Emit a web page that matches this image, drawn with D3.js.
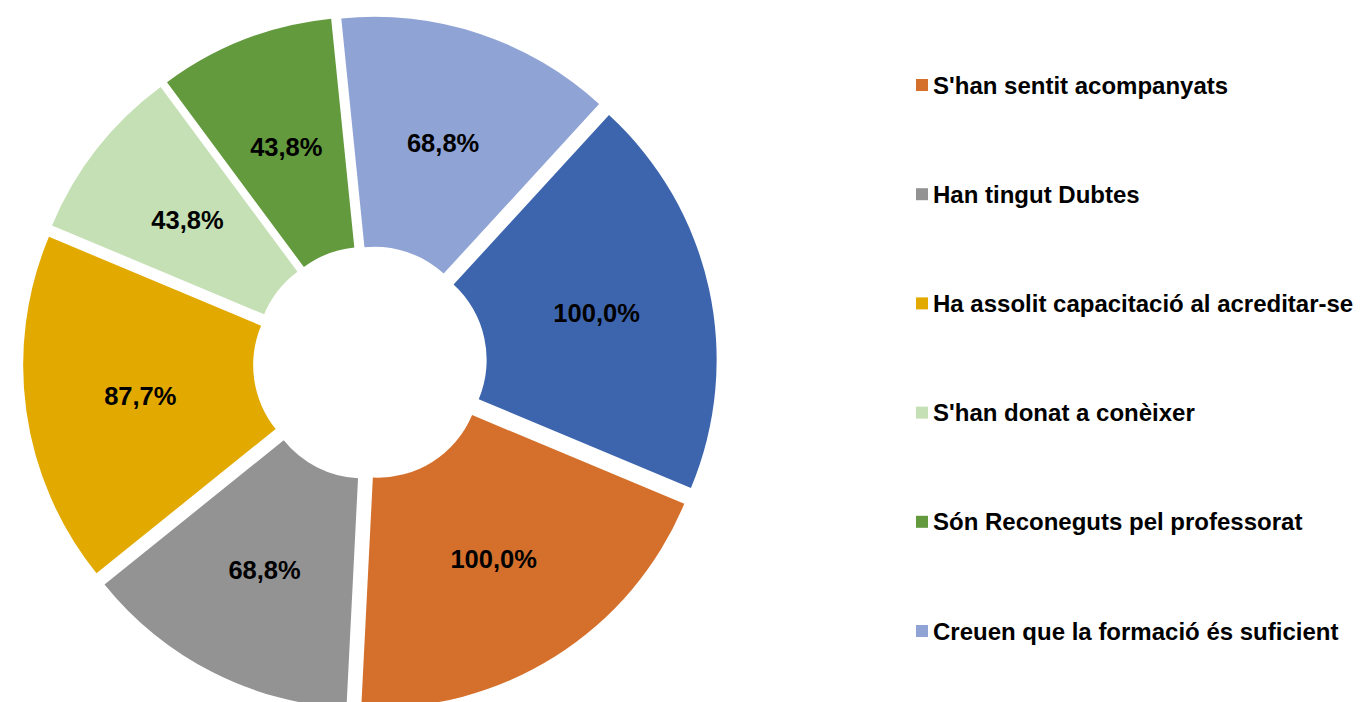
<!DOCTYPE html>
<html>
<head>
<meta charset="utf-8">
<script src="https://cdn.jsdelivr.net/npm/d3@7"></script>
<style>
	body { margin: 0; background: #fff; }
	svg { display: block; font-family: "Liberation Sans", Arial, sans-serif; }
</style>
</head>
<body>
<svg id="chart" width="1360" height="702"></svg>
<script>
// slice values, in drawing order (clockwise)
var values = [100.0, 68.8, 87.7, 43.8, 43.8, 68.8, 100.0]
var colors = ["#D4702C", "#939393", "#E2AA00", "#C5E0B4", "#639A3E", "#8FA4D5", "#3D65AE"]
// legend entries (the last series falls below the visible area)
var categories = [
	"S'han sentit acompanyats",
	"Han tingut Dubtes",
	"Ha assolit capacitació al acreditar-se",
	"S'han donat a conèixer",
	"Són Reconeguts pel professorat",
	"Creuen que la formació és suficient"
]

var svg = d3.select('#chart')

var cx = 370
var cy = 363
var outerR = 332
var innerR = 102
var explode = 15
var startDeg = 112.7

var locale = d3.formatLocale({ decimal: ",", thousands: ".", grouping: [3], currency: ["", "€"] })
var fmt = locale.format(".1f")

var pie = d3.pie()
	.sort(null)
	.value(d => d)
	.startAngle(startDeg * Math.PI / 180)
	.endAngle(startDeg * Math.PI / 180 + 2 * Math.PI)

var arc = d3.arc().innerRadius(innerR).outerRadius(outerR)

var arcs = pie(values)

var g = svg.append('g').attr('transform', 'translate(' + cx + ',' + cy + ')')

// each slice is pushed out along its bisector
var slice = g.selectAll('.slice')
	.data(arcs)
	.enter().append('g')
		.attr('class', 'slice')
		.attr('transform', function(d) {
			var a = (d.startAngle + d.endAngle) / 2
			return 'translate(' + (explode * Math.sin(a)) + ',' + (-explode * Math.cos(a)) + ')'
		})

slice.append('path')
	.attr('d', arc)
	.attr('fill', (d, i) => colors[i])

slice.append('text')
	.attr('transform', d => 'translate(' + arc.centroid(d) + ')')
	.attr('text-anchor', 'middle')
	.attr('dy', '0.36em')
	.style('font-size', '25.5px')
	.style('font-weight', 'bold')
	.attr('fill', '#000')
	.text(d => fmt(d.value) + '%')

// legend
var legend = svg.append('g')
var rowY = d3.scaleLinear().domain([0, 1]).range([85, 194.2])

var item = legend.selectAll('.item')
	.data(categories)
	.enter().append('g')
		.attr('class', 'item')
		.attr('transform', (d, i) => 'translate(916,' + rowY(i) + ')')

item.append('rect')
	.attr('x', 0)
	.attr('y', -6)
	.attr('width', 12)
	.attr('height', 12)
	.attr('fill', (d, i) => colors[i])

item.append('text')
	.attr('x', 17)
	.attr('dy', '0.36em')
	.style('font-size', '24px')
	.style('font-weight', 'bold')
	.attr('fill', '#000')
	.text(d => d)
</script>
</body>
</html>
